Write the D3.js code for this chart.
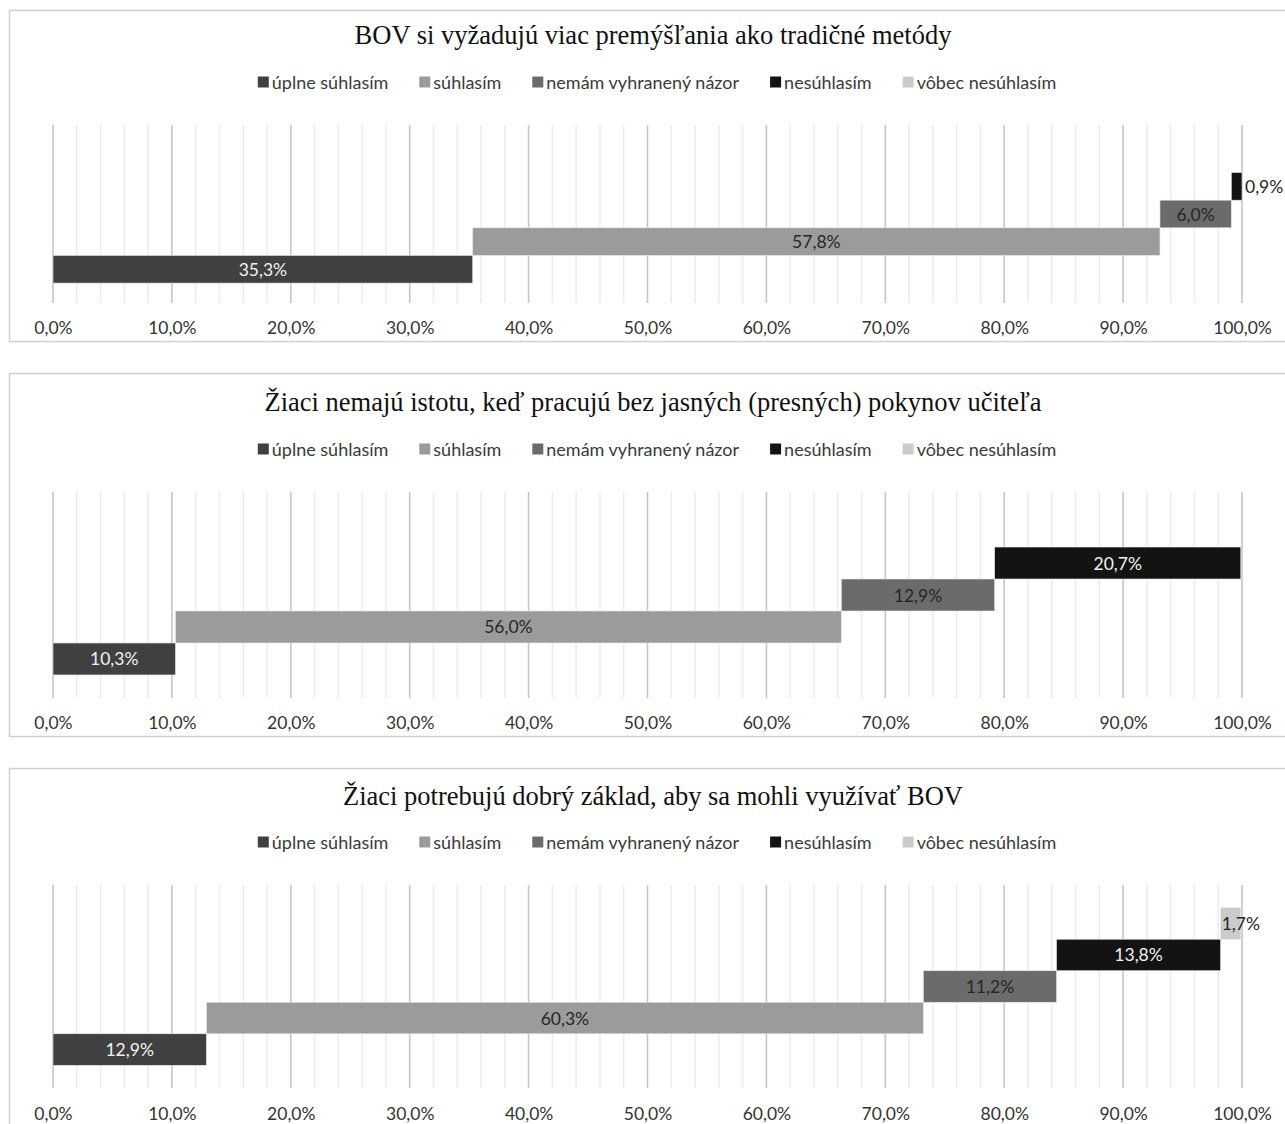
<!DOCTYPE html>
<html>
<head>
<meta charset="utf-8">
<script src="https://cdn.jsdelivr.net/npm/d3@7"></script>
<style>
  html, body { margin: 0; padding: 0; background: #ffffff; }
  svg { display: block; }
</style>
</head>
<body>
<svg id="chart" width="1285" height="1124"></svg>
<script>
// ---------- DATA ----------
const categories = ["úplne súhlasím", "súhlasím", "nemám vyhranený názor", "nesúhlasím", "vôbec nesúhlasím"];
const titles = [
  "BOV si vyžadujú viac premýšľania ako tradičné metódy",
  "Žiaci nemajú istotu, keď pracujú bez jasných (presných) pokynov učiteľa",
  "Žiaci potrebujú dobrý základ, aby sa mohli využívať BOV"
];
const values1 = [35.3, 57.8, 6.0, 0.9, 0];
const values2 = [10.3, 56.0, 12.9, 20.7, 0];
const values3 = [12.9, 60.3, 11.2, 13.8, 1.7];
const tickValues = [0, 10, 20, 30, 40, 50, 60, 70, 80, 90, 100];

// ---------- STYLE / LAYOUT ----------
const colors = ["#404040", "#9b9b9b", "#6b6b6b", "#131313", "#cbcbcb"];
const labelColors = ["#f2f2f2", "#262626", "#262626", "#f2f2f2", "#262626"];
const sansFont = "Lato, 'Open Sans', sans-serif";
const serifFont = "'Liberation Serif', 'DejaVu Serif', serif";

const panels = [
  { values: values1, title: titles[0], box: [10, 341], titleY: 35, legendY: 82, grid: [125, 303], tickY: 327, smallMode: "outside" },
  { values: values2, title: titles[1], box: [373, 736], titleY: 402, legendY: 449, grid: [492, 698], tickY: 722, smallMode: "outside" },
  { values: values3, title: titles[2], box: [768, 1131], titleY: 796, legendY: 842, grid: [885, 1088], tickY: 1113, smallMode: "end" }
];

const svg = d3.select("#chart");
const x = d3.scaleLinear().domain([0, 100]).range([53, 1242]);
const fmt = v => d3.format(".1f")(v).replace(".", ",") + "%";
const minorTicks = d3.range(0, 101, 2);

panels.forEach(p => {
  const g = svg.append("g");

  // panel frame
  g.append("rect")
    .attr("x", 9.5).attr("y", p.box[0] + 0.5)
    .attr("width", 1300).attr("height", p.box[1] - p.box[0])
    .attr("fill", "#ffffff").attr("stroke", "#d0d0d0").attr("stroke-width", 1.5);

  // title
  g.append("text")
    .attr("x", 653).attr("y", p.titleY)
    .attr("text-anchor", "middle").attr("dominant-baseline", "central")
    .attr("font-family", serifFont).attr("font-size", 26.5).attr("fill", "#111111")
    .text(p.title);

  // legend (laid out from measured text widths, centred)
  const lg = g.append("g");
  let cx = 0;
  categories.forEach((c, i) => {
    const item = lg.append("g").attr("transform", `translate(${cx},0)`);
    item.append("rect").attr("x", 0).attr("y", -5.5).attr("width", 11).attr("height", 11).attr("fill", colors[i]);
    const t = item.append("text").attr("x", 14).attr("y", 0)
      .attr("dominant-baseline", "central")
      .attr("font-family", sansFont).attr("font-size", 18).attr("fill", "#3a3a3a")
      .text(c);
    cx += 14 + t.node().getComputedTextLength() + 31;
  });
  const lw = cx - 31;
  lg.attr("transform", `translate(${657 - lw / 2},${p.legendY})`);

  // gridlines
  g.append("g").selectAll("line").data(minorTicks.filter(d => d % 10 !== 0)).join("line")
    .attr("x1", d => x(d)).attr("x2", d => x(d))
    .attr("y1", p.grid[0]).attr("y2", p.grid[1])
    .attr("stroke", "#ececec").attr("stroke-width", 1.5);
  g.append("g").selectAll("line").data(tickValues).join("line")
    .attr("x1", d => x(d)).attr("x2", d => x(d))
    .attr("y1", p.grid[0]).attr("y2", p.grid[1])
    .attr("stroke", "#c6c6c6").attr("stroke-width", 1.6);

  // x axis tick labels via d3 axis
  const axis = d3.axisBottom(x).tickValues(tickValues).tickFormat(fmt).tickSize(0).tickPadding(0);
  const ag = g.append("g").attr("transform", `translate(0,${p.tickY})`).call(axis);
  ag.select(".domain").remove();
  ag.selectAll("text")
    .attr("dy", null).attr("y", 0)
    .attr("dominant-baseline", "central")
    .attr("font-family", sansFont).attr("font-size", 17.5).attr("fill", "#333333");

  // bars
  const y = d3.scaleBand().domain(categories.slice().reverse())
    .range([p.grid[0], p.grid[1]]).paddingInner(0).paddingOuter(0.72);
  const starts = [];
  let acc = 0;
  p.values.forEach(v => { starts.push(acc); acc += v; });
  const rows = categories.map((c, i) => ({ c, i, v: p.values[i], s: starts[i] })).filter(d => d.v > 0);

  g.append("g").selectAll("rect").data(rows).join("rect")
    .attr("x", d => x(d.s)).attr("width", d => x(d.s + d.v) - x(d.s))
    .attr("y", d => y(d.c)).attr("height", y.bandwidth())
    .attr("fill", d => colors[d.i])
    .attr("stroke", "#e8e8e8").attr("stroke-width", 0.6);

  g.append("g").selectAll("text").data(rows).join("text")
    .each(function (d) {
      const w = x(d.s + d.v) - x(d.s);
      const el = d3.select(this);
      el.attr("y", y(d.c) + y.bandwidth() / 2)
        .attr("dominant-baseline", "central")
        .attr("font-family", sansFont).attr("font-size", 17.5)
        .text(fmt(d.v));
      if (w < 30) {
        if (p.smallMode === "outside") {
          el.attr("x", x(d.s + d.v) + 3).attr("text-anchor", "start").attr("fill", "#262626");
        } else {
          el.attr("x", x(d.s + d.v)).attr("text-anchor", "middle").attr("fill", "#262626");
        }
      } else {
        el.attr("x", x(d.s + d.v / 2)).attr("text-anchor", "middle").attr("fill", labelColors[d.i]);
      }
    });
});
</script>
</body>
</html>
